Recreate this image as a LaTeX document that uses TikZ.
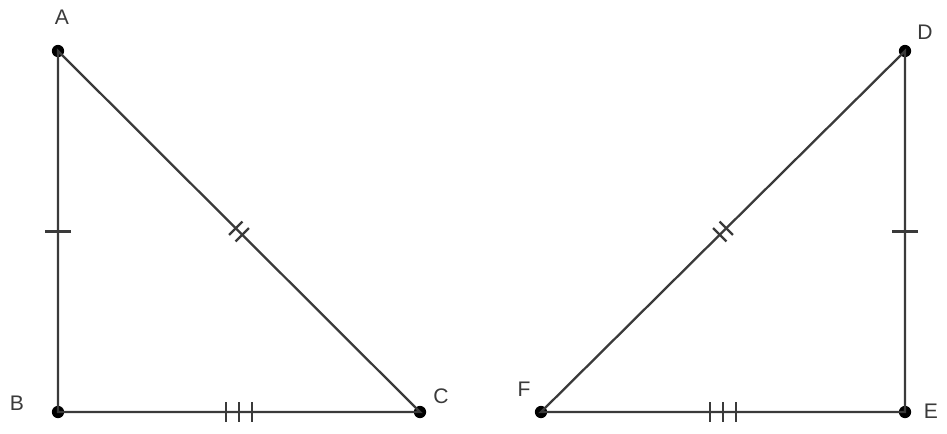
\documentclass[tikz,border=0pt]{standalone}
\usepackage{fontspec}
\setmainfont{Liberation Sans}
\usepackage{tikz}
\usetikzlibrary{calc}
\definecolor{cLine}{HTML}{3a3a3a}
\definecolor{cDot} {HTML}{000000}
\tikzset{
  vdot/.style ={circle,fill=cDot,inner sep=0pt,minimum size=7pt},
  vlab/.style ={font=\fontsize{12}{14}\selectfont,text=cLine,inner sep=0pt},
  side/.style ={line width=1.3pt,cLine},
  tick/.style ={line width=1.3pt,cLine},
}

\begin{document}
\begin{tikzpicture}[x=0.02cm,y=-0.02cm]
    \useasboundingbox (0,0) rectangle (947,433);
    % left triangle
    \node[vdot] (A) at (58,51) {};
    \node[vdot] (B) at (58,412) {};
    \node[vdot] (C) at (420,412) {};
    % right triangle
    \node[vdot] (D) at (905,51) {};
    \node[vdot] (E) at (905,412) {};
    \node[vdot] (F) at (541,412) {};
    \node[vlab] (lA) at (62,17) {A};
    \node[vlab] (lB) at (17,403) {B};
    \node[vlab] (lC) at (441,396) {C};
    \node[vlab] (lD) at (925,32) {D};
    \node[vlab] (lE) at (931,411) {E};
    \node[vlab] (lF) at (524,389) {F};
    \draw[side] (A.center)--(B.center)--(C.center)--cycle;
    \draw[side] (D.center)--(E.center)--(F.center)--cycle;
    % single ticks
    \coordinate (mAB) at ($(A)!0.5!(B)$);
    \coordinate (mDE) at ($(D)!0.5!(E)$);
    \draw[tick] ($(mAB)!7.4pt!90:(B)$)--($(mAB)!7.4pt!-90:(B)$);
    \draw[tick] ($(mDE)!7.4pt!90:(E)$)--($(mDE)!7.4pt!-90:(E)$);
    % double ticks
    \coordinate (mAC) at ($(A)!0.5!(C)$);
    \coordinate (mDF) at ($(D)!0.5!(F)$);
    \foreach \s in {-2.6pt,2.6pt}{
      \coordinate (p) at ($(mAC)!\s!(C)$);
      \draw[tick] ($(p)!5.4pt!90:(C)$)--($(p)!5.4pt!-90:(C)$);
      \coordinate (q) at ($(mDF)!\s!(F)$);
      \draw[tick] ($(q)!5.4pt!90:(F)$)--($(q)!5.4pt!-90:(F)$);
    }
    % triple ticks
    \coordinate (mBC) at ($(B)!0.5!(C)$);
    \coordinate (mFE) at ($(F)!0.5!(E)$);
    \foreach \s in {-7.4pt,0pt,7.4pt}{
      \coordinate (p) at ($(mBC)+(\s,0)$);
      \draw[tick] ($(p)+(0,5.6pt)$)--($(p)+(0,-5.6pt)$);
      \coordinate (q) at ($(mFE)+(\s,0)$);
      \draw[tick] ($(q)+(0,5.6pt)$)--($(q)+(0,-5.6pt)$);
    }
  \end{tikzpicture}
\end{document}
